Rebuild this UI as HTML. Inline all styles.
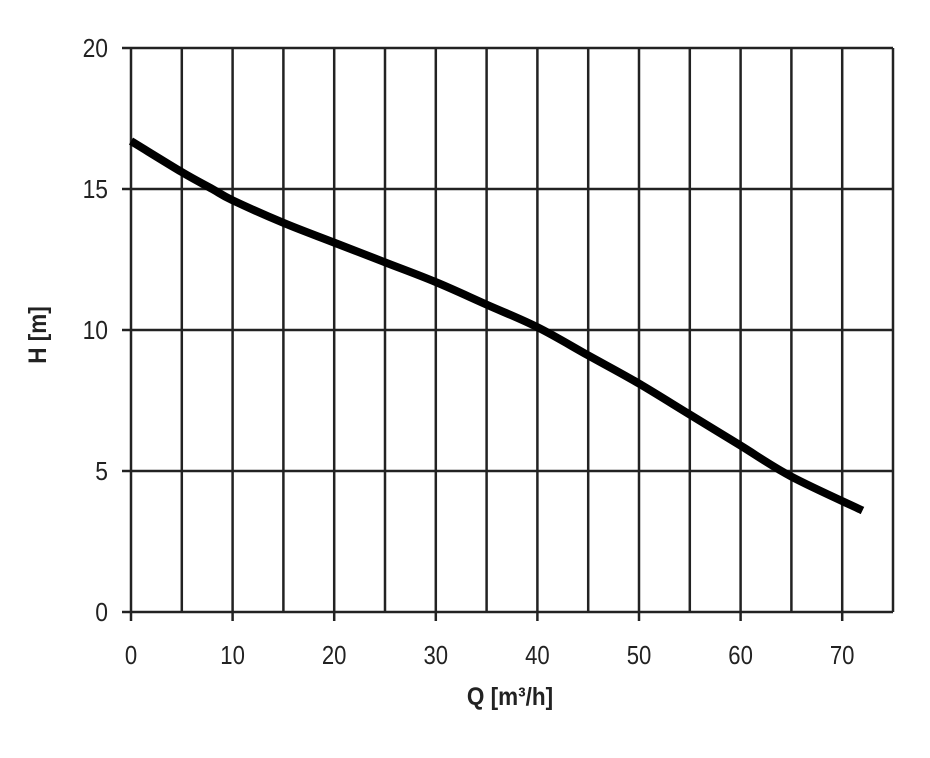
<!DOCTYPE html>
<html><head><meta charset="utf-8"><style>
html,body{margin:0;padding:0;background:#fff;}
svg{display:block;font-family:"Liberation Sans",sans-serif;}
</style></head><body>
<svg id="chart" width="930" height="758"></svg>
<script>
const xTicks = [0,10,20,30,40,50,60,70];
const yTicks = [0,5,10,15,20];
const qValues = [0,5,8,10,15,20,25,30,35,40,45,50,55,60,65,72];
const hValues = [16.7,15.6,15.0,14.6,13.8,13.1,12.4,11.7,10.9,10.1,9.1,8.1,7.0,5.9,4.8,3.6];

const X0=131,X1=893,Y0=612,Y1=48,XMAX=75,YMAX=20;
const sx=v=>X0+(X1-X0)*v/XMAX;
const sy=v=>Y0-(Y0-Y1)*v/YMAX;
const NS="http://www.w3.org/2000/svg";
const svg=document.getElementById('chart');
function mk(t,a,p){const e=document.createElementNS(NS,t);for(const k in a)e.setAttribute(k,a[k]);(p||svg).appendChild(e);return e;}

const grid=mk('g',{});


for(let v=0;v<=XMAX;v+=5){
  const l=mk('line',{x1:sx(v),x2:sx(v),y1:Y1,y2:Y0,stroke:'#222','stroke-width':2.5},grid);
  
  
}
yTicks.forEach(v=>{
  const l=mk('line',{x1:X0-9,x2:X1,y1:sy(v),y2:sy(v),stroke:'#222','stroke-width':2.5},grid);
  
  
  const t=mk('text',{x:108/0.88,y:sy(v)+9,'text-anchor':'end','font-size':26,fill:'#222',transform:'scale(0.88,1)'});
  t.textContent=v;
  
  
});
xTicks.forEach(v=>{
  const l=mk('line',{x1:sx(v),x2:sx(v),y1:Y0,y2:Y0+9,stroke:'#222','stroke-width':2.5},grid);
  
  
  const t=mk('text',{x:sx(v)/0.85,y:664,'text-anchor':'middle','font-size':26,fill:'#222',transform:'scale(0.85,1)'});
  t.textContent=v;
  
  
});

const pts=qValues.map((q,i)=>[sx(q),sy(hValues[i])]);
let d='M'+pts[0][0].toFixed(1)+','+pts[0][1].toFixed(1);
for(let i=0;i<pts.length-1;i++){
  const p0=pts[Math.max(0,i-1)],p1=pts[i],p2=pts[i+1],p3=pts[Math.min(pts.length-1,i+2)];
  const c1=[p1[0]+(p2[0]-p0[0])/6,p1[1]+(p2[1]-p0[1])/6];
  const c2=[p2[0]-(p3[0]-p1[0])/6,p2[1]-(p3[1]-p1[1])/6];
  d+=`C${c1[0].toFixed(1)},${c1[1].toFixed(1)} ${c2[0].toFixed(1)},${c2[1].toFixed(1)} ${p2[0].toFixed(1)},${p2[1].toFixed(1)}`;
}
const path=mk('path',{d:d,fill:'none',stroke:'#000','stroke-width':8,'stroke-linejoin':'round','stroke-linecap':'butt'});



const xt=mk('text',{x:510/0.9,y:705,'text-anchor':'middle','font-size':25,'font-weight':'bold',fill:'#222',transform:'scale(0.9,1)'});
xt.textContent='Q [m³/h]';


const yt=mk('text',{x:0,y:0,'text-anchor':'middle','font-size':25,'font-weight':'bold',fill:'#222',transform:'translate(46,335) rotate(-90) scale(0.9,1)'});
yt.textContent='H [m]';


</script>
</body></html>
